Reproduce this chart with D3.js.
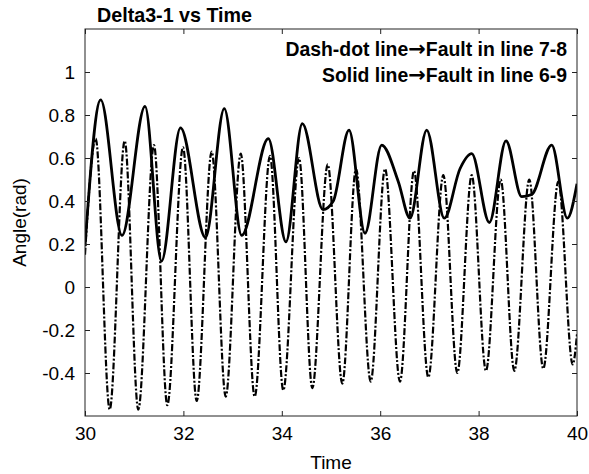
<!DOCTYPE html>
<html>
<head>
<meta charset="utf-8">
<script src="https://cdn.jsdelivr.net/npm/d3@7"></script>
<style>
  html, body { margin: 0; padding: 0; background: #fff; }
  svg { display: block; font-family: "Liberation Sans", Arial, Helvetica, sans-serif; }
</style>
</head>
<body>
<svg id="chart" width="589" height="474"></svg>
<script>
// ---- data ----
const titleText = "Delta3-1 vs Time";
const xLabel = "Time";
const yLabel = "Angle(rad)";
const legendLeft = ["Dash-dot line", "Solid line"];
const legendRight = ["Fault in line 7-8", "Fault in line 6-9"];
const arrowChar = "\u2192";

const xDomain = [30, 40];
const yDomain = [-0.6, 1.2];
const xTicks = [30, 32, 34, 36, 38, 40];
const yTicks = [-0.4, -0.2, 0, 0.2, 0.4, 0.6, 0.8, 1];

// Dash-dot line (fault in line 7-8): extrema
const dashTime = [30.00, 30.217, 30.502, 30.807, 31.083, 31.402, 31.673, 31.992, 32.270, 32.575,
  32.860, 33.165, 33.449, 33.760, 34.030, 34.350, 34.620, 34.933, 35.230, 35.508, 35.807,
  36.098, 36.402, 36.687, 36.978, 37.283, 37.567, 37.860, 38.150, 38.449, 38.726, 39.030,
  39.315, 39.620, 39.913, 40.00];
const dashValue = [0.15, 0.69, -0.57, 0.68, -0.57, 0.66, -0.55, 0.65, -0.53, 0.63,
  -0.51, 0.62, -0.51, 0.61, -0.48, 0.60, -0.47, 0.57, -0.45, 0.55, -0.44,
  0.55, -0.44, 0.54, -0.42, 0.52, -0.40, 0.52, -0.39, 0.50, -0.39, 0.50,
  -0.38, 0.49, -0.36, -0.22];

// Solid line (fault in line 6-9)
const solidTime = [30.00, 30.319, 30.752, 31.220, 31.555, 31.941, 32.449, 32.831, 33.185, 33.726,
  34.085, 34.417, 34.837, 35.047, 35.366, 35.691, 36.030, 36.368, 36.606, 36.945,
  37.303, 37.622, 37.860, 38.218, 38.557, 38.876, 39.079, 39.486, 39.803, 40.00];
const solidValue = [0.19, 0.87, 0.24, 0.84, 0.12, 0.74, 0.23, 0.83, 0.24, 0.69,
  0.21, 0.76, 0.36, 0.40, 0.73, 0.25, 0.66, 0.49, 0.32, 0.73,
  0.32, 0.55, 0.62, 0.30, 0.68, 0.42, 0.43, 0.66, 0.32, 0.48];

// ---- layout ----
const plot = { left: 85, right: 577, top: 29, bottom: 416 };
const svg = d3.select("#chart");

const x = d3.scaleLinear().domain(xDomain).range([plot.left, plot.right]);
const y = d3.scaleLinear().domain(yDomain).range([plot.bottom, plot.top]);

const fmt = d => String(+(+d).toFixed(1));

// clip
svg.append("defs").append("clipPath").attr("id", "clip")
  .append("rect").attr("x", plot.left).attr("y", plot.top)
  .attr("width", plot.right - plot.left).attr("height", plot.bottom - plot.top);

// lines
const line = d3.line().x(d => x(d[0])).y(d => y(d[1])).curve(d3.curveMonotoneX);
const solidData = solidTime.map((t, i) => [t, solidValue[i]]);
const dashData = dashTime.map((t, i) => [t, dashValue[i]]);

const g = svg.append("g").attr("clip-path", "url(#clip)");
g.append("path").datum(solidData).attr("d", line)
  .attr("fill", "none").attr("stroke", "#000").attr("stroke-width", 2.8)
  .attr("stroke-linejoin", "round");
g.append("path").datum(dashData).attr("d", line)
  .attr("fill", "none").attr("stroke", "#000").attr("stroke-width", 2.2)
  .attr("stroke-dasharray", "7,2,2,2");

// axes
const tickFont = 19;
function styleAxis(sel) {
  sel.select(".domain").remove();
  sel.selectAll(".tick line").attr("stroke", "#222");
  sel.selectAll(".tick text").attr("font-size", tickFont).attr("fill", "#000")
    .attr("font-family", "Liberation Sans, Arial, sans-serif");
}
svg.append("g").attr("transform", `translate(0,${plot.bottom})`)
  .call(d3.axisBottom(x).tickValues(xTicks).tickFormat(fmt).tickSizeInner(-5).tickSizeOuter(0).tickPadding(11))
  .call(styleAxis);
svg.append("g").attr("transform", `translate(0,${plot.top})`)
  .call(d3.axisTop(x).tickValues(xTicks).tickFormat("").tickSizeInner(-5).tickSizeOuter(0))
  .call(styleAxis);
svg.append("g").attr("transform", `translate(${plot.left},0)`)
  .call(d3.axisLeft(y).tickValues(yTicks).tickFormat(fmt).tickSizeInner(-5).tickSizeOuter(0).tickPadding(10))
  .call(styleAxis);
svg.append("g").attr("transform", `translate(${plot.right},0)`)
  .call(d3.axisRight(y).tickValues(yTicks).tickFormat("").tickSizeInner(-5).tickSizeOuter(0))
  .call(styleAxis);

// box
svg.append("rect").attr("x", plot.left).attr("y", plot.top)
  .attr("width", plot.right - plot.left).attr("height", plot.bottom - plot.top)
  .attr("fill", "none").attr("stroke", "#222").attr("stroke-width", 1);

// title
svg.append("text").attr("x", 97).attr("y", 22)
  .attr("font-size", 19.7).attr("font-weight", "bold").text(titleText);

// legend text
legendLeft.forEach((s, i) => {
  const t = svg.append("text").attr("x", 567).attr("y", 56 + i * 26)
    .attr("text-anchor", "end").attr("font-size", 19.4).attr("font-weight", "bold");
  t.append("tspan").text(s);
  t.append("tspan").attr("font-family", "DejaVu Sans").attr("font-size", 21).text(arrowChar);
  t.append("tspan").text(legendRight[i]);
});

// axis labels
svg.append("text").attr("x", (plot.left + plot.right) / 2).attr("y", 469)
  .attr("text-anchor", "middle").attr("font-size", 19).text(xLabel);
svg.append("text").attr("transform", `translate(26,${(plot.top + plot.bottom) / 2}) rotate(-90)`)
  .attr("text-anchor", "middle").attr("font-size", 19).text(yLabel);
</script>
</body>
</html>
